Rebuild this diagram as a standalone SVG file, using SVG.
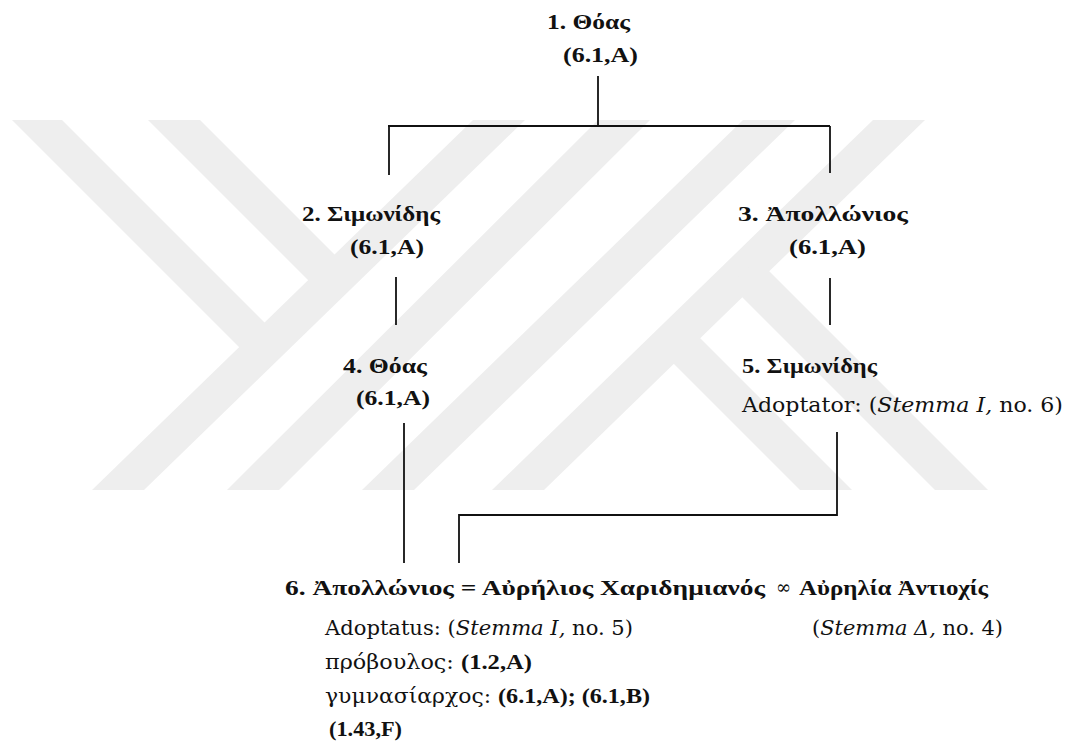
<svg xmlns="http://www.w3.org/2000/svg" width="1065" height="743" viewBox="0 0 1065 743">
  <style>
    .t { font-family: "DejaVu Serif", "Liberation Serif", serif; font-size: 20px; fill: #111; }
    .b { font-family: "Liberation Serif", "DejaVu Serif", serif; font-size: 22px; font-weight: bold; }
    .i { font-family: "DejaVu Serif", "Liberation Serif", serif; font-style: italic; font-weight: normal; }
    .wm { fill: #eeeeee; }
    .ln { stroke: #111; stroke-width: 1.8; fill: none; }
  </style>
  <defs>
    <clipPath id="wmClip">
      <rect x="0" y="120" width="1065" height="370"/>
    </clipPath>
  </defs>

  <rect width="1065" height="743" fill="#ffffff"/>

  <!-- background emblem: diagonal bands -->
  <g id="watermark" clip-path="url(#wmClip)">
    <polygon class="wm" points="473,120 525,120 144,490 92,490"/>
    <polygon class="wm" points="598,120 650,120 279,490 227,490"/>
    <polygon class="wm" points="743,120 795,120 414,490 362,490"/>
    <polygon class="wm" points="873,120 925,120 544,490 492,490"/>
    <polygon class="wm" points="12,120 62,120 277,335 252,360"/>
    <polygon class="wm" points="148,120 200,120 347,267 321,293"/>
    <polygon class="wm" points="661,351 688,326 852,490 800,490"/>
    <polygon class="wm" points="730,285 757,259 988,490 935,490"/>
  </g>

  <!-- family lines -->
  <g id="connectors">
    <path class="ln" d="M598,76 V126"/>
    <path class="ln" d="M388,126 H830"/>
    <path class="ln" d="M389,126 V175"/>
    <path class="ln" d="M830,126 V173"/>
    <path class="ln" d="M396,277 V325"/>
    <path class="ln" d="M830,278 V325"/>
    <path class="ln" d="M404,423 V563"/>
    <path class="ln" d="M837,432 V515 H459 V563"/>
  </g>

  <g id="node-1">
    <text class="t b" x="547" y="29" textLength="83" lengthAdjust="spacingAndGlyphs">1. Θόας</text>
    <text class="t b" x="563" y="62" textLength="75" lengthAdjust="spacingAndGlyphs">(6.1,A)</text>
  </g>

  <g id="node-2">
    <text class="t b" x="302" y="221" textLength="138" lengthAdjust="spacingAndGlyphs">2. Σιμωνίδης</text>
    <text class="t b" x="350" y="254" textLength="74" lengthAdjust="spacingAndGlyphs">(6.1,A)</text>
  </g>

  <g id="node-3">
    <text class="t b" x="738" y="221" textLength="170" lengthAdjust="spacingAndGlyphs">3. Ἀπολλώνιος</text>
    <text class="t b" x="789" y="254" textLength="77" lengthAdjust="spacingAndGlyphs">(6.1,A)</text>
  </g>

  <g id="node-4">
    <text class="t b" x="343" y="373" textLength="84" lengthAdjust="spacingAndGlyphs">4. Θόας</text>
    <text class="t b" x="356" y="405" textLength="74" lengthAdjust="spacingAndGlyphs">(6.1,A)</text>
  </g>

  <g id="node-5">
    <text class="t b" x="742" y="373" textLength="135" lengthAdjust="spacingAndGlyphs">5. Σιμωνίδης</text>
    <text class="t" x="742" y="412" textLength="321" lengthAdjust="spacingAndGlyphs">Adoptator: (<tspan class="i">Stemma I,</tspan> no. 6)</text>
  </g>

  <g id="node-6">
    <text class="t b" x="285" y="595" textLength="480" lengthAdjust="spacingAndGlyphs">6. Ἀπολλώνιος = Αὐρήλιος Χαριδημιανός</text>
    <text class="t" x="325" y="635" textLength="308" lengthAdjust="spacingAndGlyphs">Adoptatus: (<tspan class="i">Stemma I,</tspan> no. 5)</text>
    <text class="t" x="325" y="669" textLength="207" lengthAdjust="spacingAndGlyphs">πρόβουλος: <tspan class="b">(1.2,A)</tspan></text>
    <text class="t" x="325" y="703" textLength="325" lengthAdjust="spacingAndGlyphs">γυμνασίαρχος: <tspan class="b">(6.1,A); (6.1,B)</tspan></text>
    <text class="t b" x="329" y="736" textLength="73" lengthAdjust="spacingAndGlyphs">(1.43,F)</text>
  </g>

  <g id="marriage">
    <text class="t" x="776" y="594" font-size="18" textLength="15" lengthAdjust="spacingAndGlyphs">∞</text>
  </g>

  <g id="node-spouse">
    <text class="t b" x="799" y="595" textLength="189" lengthAdjust="spacingAndGlyphs">Αὐρηλία Ἀντιοχίς</text>
    <text class="t" x="812" y="635" textLength="191" lengthAdjust="spacingAndGlyphs">(<tspan class="i">Stemma Δ,</tspan> no. 4)</text>
  </g>
</svg>
